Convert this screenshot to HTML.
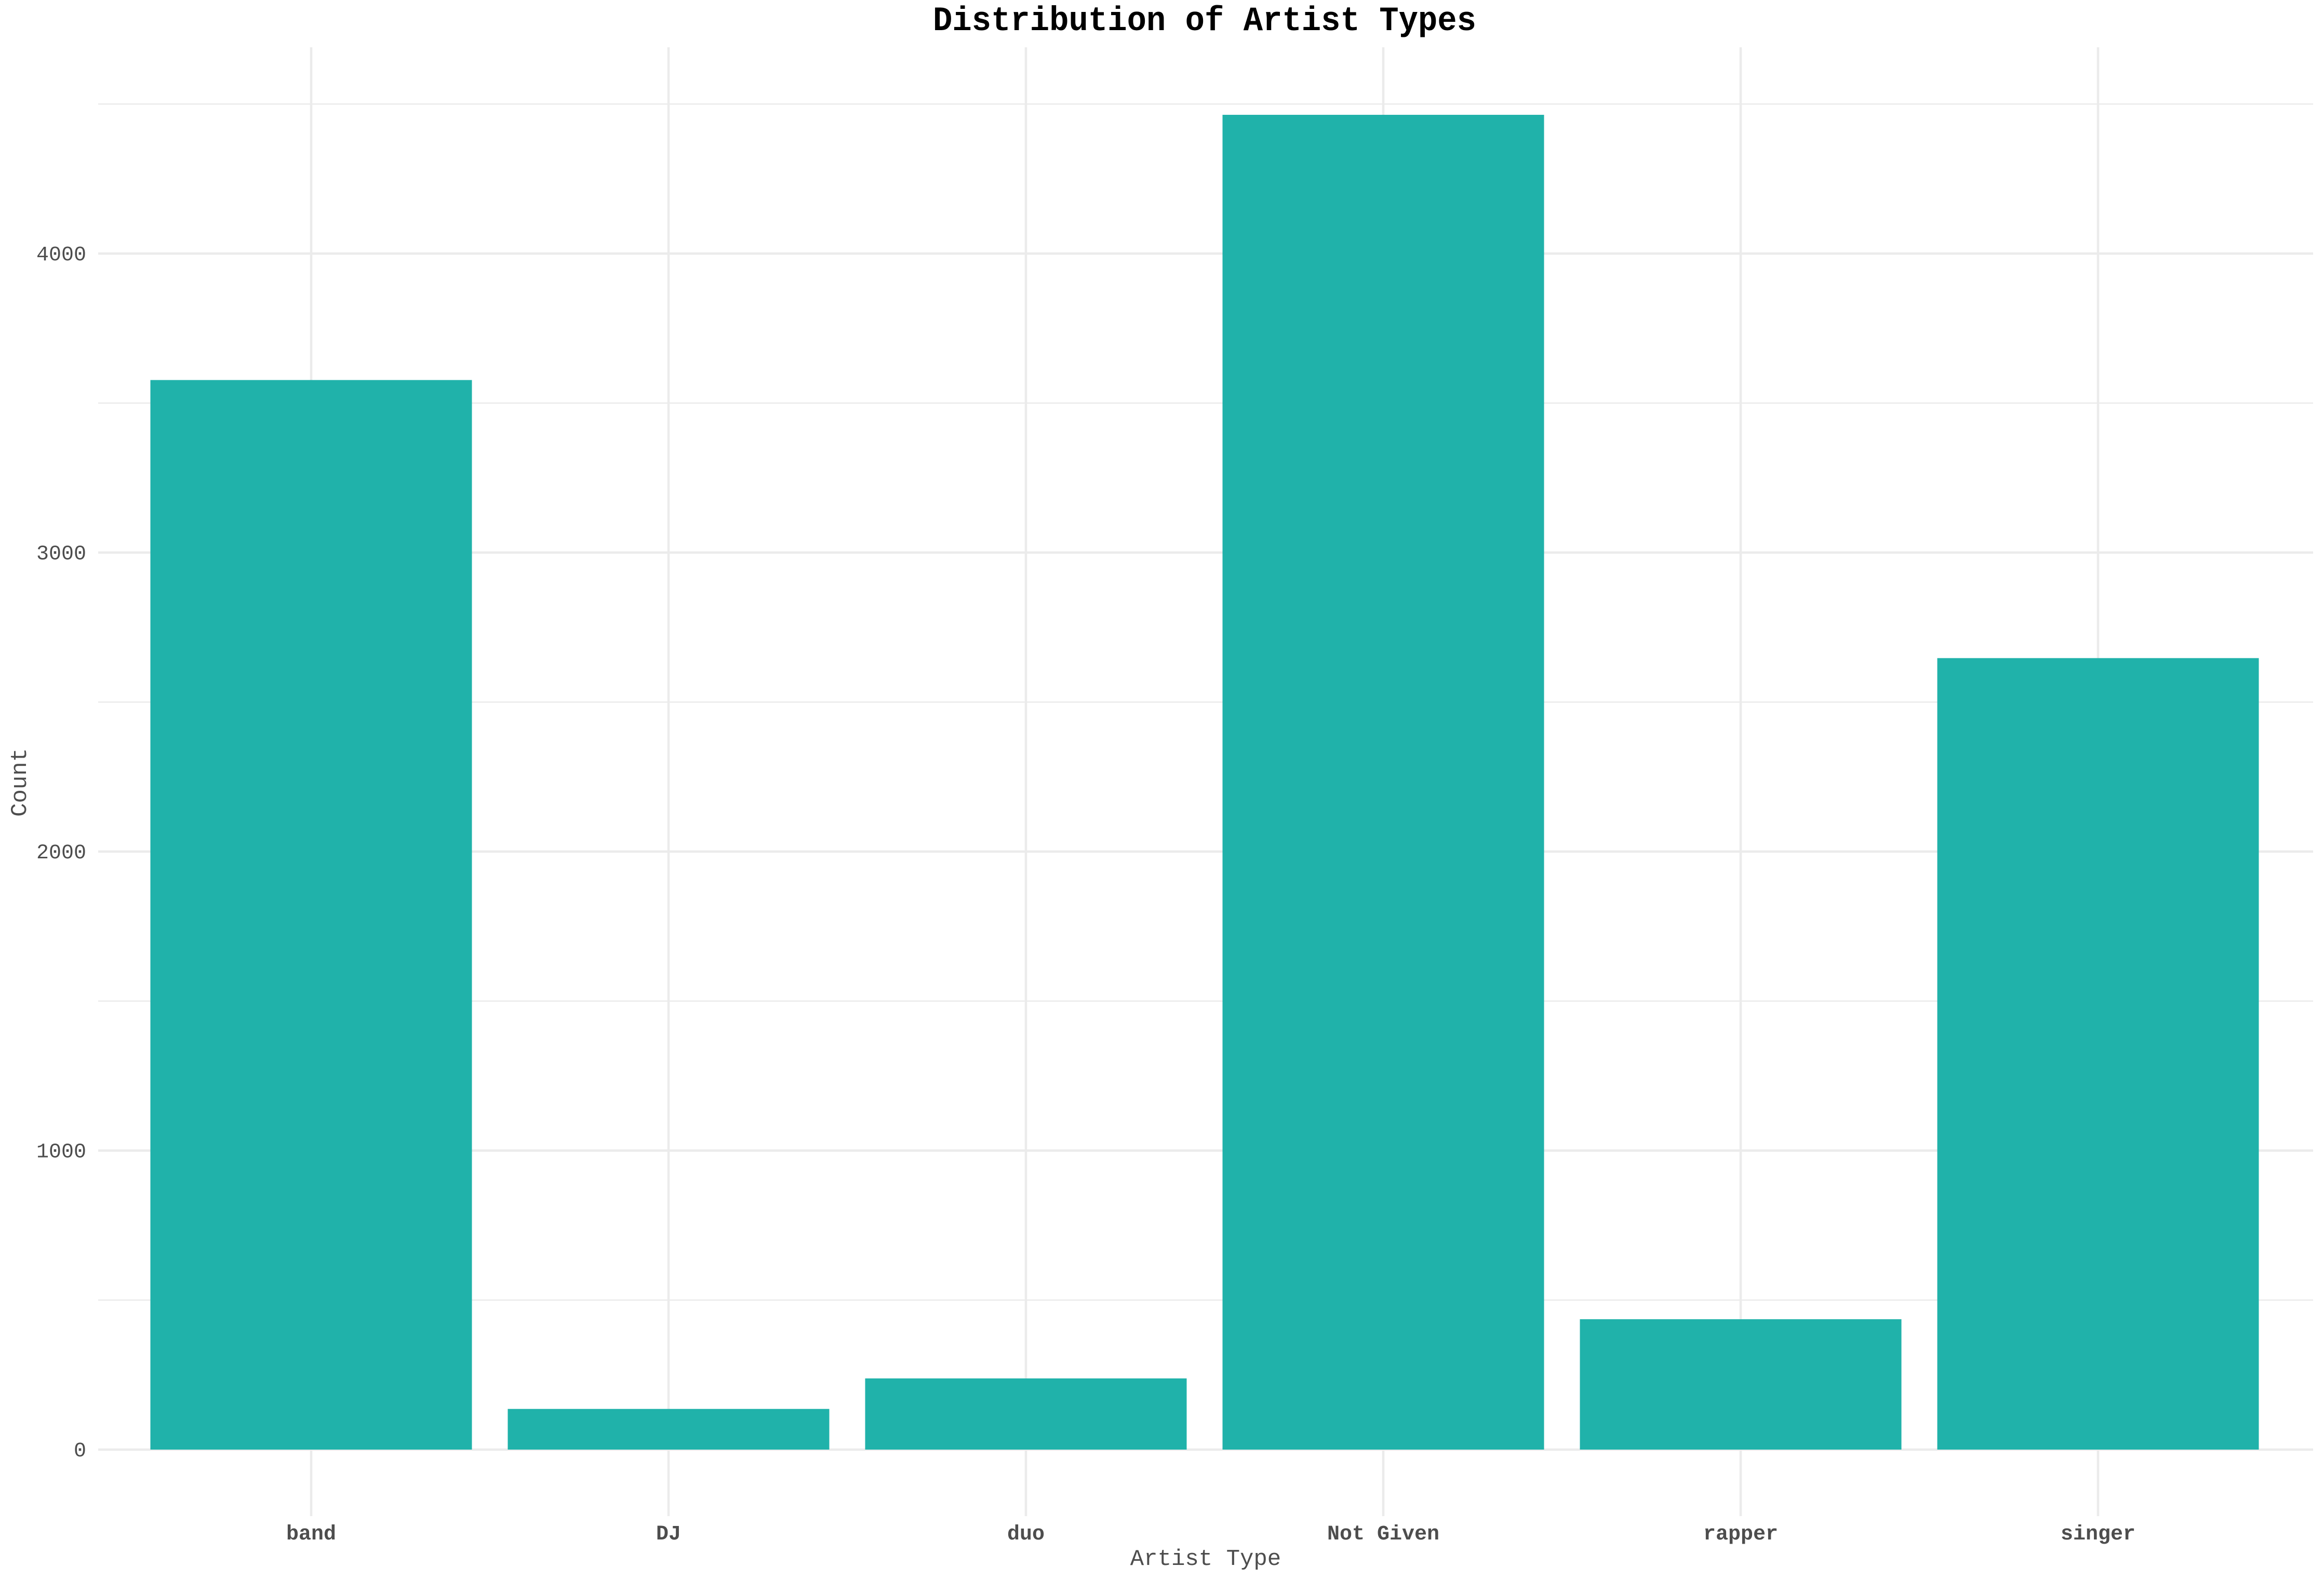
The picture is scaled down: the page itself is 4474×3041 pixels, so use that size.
<!DOCTYPE html>
<html><head><meta charset="utf-8"><style>
html,body{margin:0;padding:0;background:#fff;}
svg{display:block;}
</style></head><body>
<svg id="chart" width="4474" height="3041" viewBox="0 0 4474 3041" xmlns="http://www.w3.org/2000/svg">
<rect width="4474" height="3041" fill="#ffffff"/>
<g id="grid"></g>
<g id="bars"></g>
<g id="ylabels"></g>
<g id="xlabels"></g>
<text x="2319" y="58" text-anchor="middle" font-family="Liberation Mono, monospace" font-weight="bold" font-size="66" textLength="1046" lengthAdjust="spacingAndGlyphs" fill="#000">Distribution of Artist Types</text>
<text x="2321" y="3012" text-anchor="middle" font-family="Liberation Mono, monospace" font-size="44" fill="#4d4d4d">Artist Type</text>
<text x="0" y="0" transform="translate(50,1506) rotate(-90)" text-anchor="middle" font-family="Liberation Mono, monospace" font-size="44" fill="#4d4d4d">Count</text>
</svg>
<script>
const categories = ["band","DJ","duo","Not Given","rapper","singer"];
const counts = [3577, 136, 238, 4464, 436, 2647];
const yTicks = [0, 1000, 2000, 3000, 4000];
const yMinor = [500, 1500, 2500, 3500, 4500];

const NS = "http://www.w3.org/2000/svg";
const plotLeft = 189, plotRight = 4453, plotTop = 91, plotBottom = 2918;
const zeroY = 2790, pxPerUnit = 0.5755;
const firstX = 599, step = 688, barW = 619;
function yScale(v){ return zeroY - v * pxPerUnit; }
function xScale(i){ return firstX + i * step; }
function mk(tag, attrs){ const e = document.createElementNS(NS, tag); for (const k in attrs) e.setAttribute(k, attrs[k]); return e; }

const grid = document.getElementById('grid');
yMinor.forEach(v => {
  const l = mk('line', {x1: plotLeft, x2: plotRight, y1: yScale(v), y2: yScale(v), stroke: '#ebebeb', 'stroke-width': 2.5});
  
  
  grid.appendChild(l);
});
yTicks.forEach(v => {
  const l = mk('line', {x1: plotLeft, x2: plotRight, y1: yScale(v), y2: yScale(v), stroke: '#ebebeb', 'stroke-width': 4.5});
  
  
  grid.appendChild(l);
});
categories.forEach((c, i) => {
  const l = mk('line', {x1: xScale(i), x2: xScale(i), y1: plotTop, y2: plotBottom, stroke: '#ebebeb', 'stroke-width': 4.5});
  
  
  grid.appendChild(l);
});

const bars = document.getElementById('bars');
counts.forEach((v, i) => {
  const r = mk('rect', {x: xScale(i) - barW/2, y: yScale(v), width: barW, height: zeroY - yScale(v), fill: '#20b2aa'});
  
  
  bars.appendChild(r);
});

const yl = document.getElementById('ylabels');
yTicks.forEach(v => {
  const t = mk('text', {x: 166, y: yScale(v) + 13, 'text-anchor': 'end', 'font-family': 'Liberation Mono, monospace', 'font-size': 40, fill: '#4d4d4d'});
  t.textContent = String(v);
  
  
  yl.appendChild(t);
});
const xl = document.getElementById('xlabels');
categories.forEach((c, i) => {
  const t = mk('text', {x: xScale(i), y: 2963, 'text-anchor': 'middle', 'font-family': 'Liberation Mono, monospace', 'font-weight': 'bold', 'font-size': 40, fill: '#4d4d4d'});
  t.textContent = c;
  
  
  xl.appendChild(t);
});
</script>
</body></html>
